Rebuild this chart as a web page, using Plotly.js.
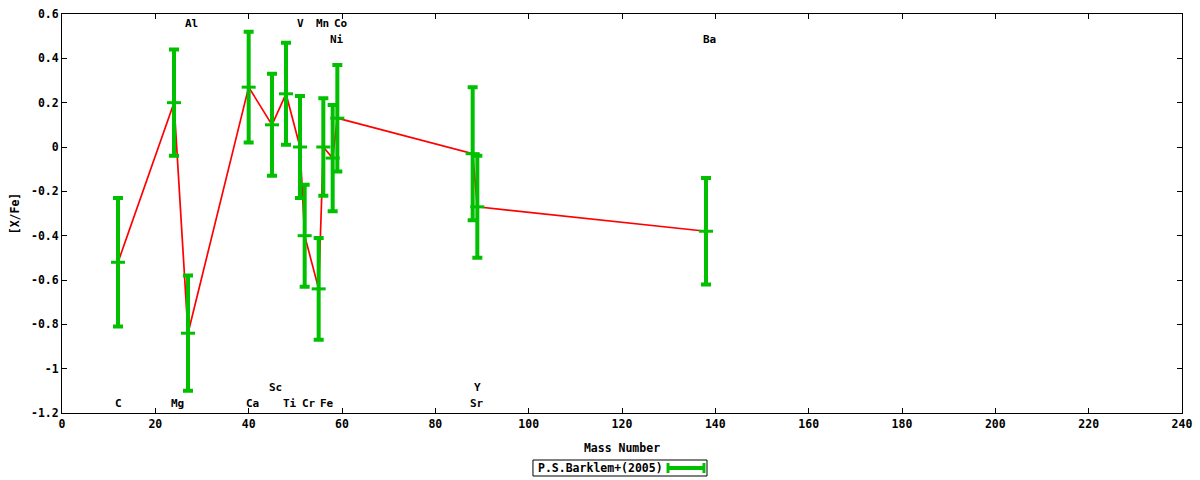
<!DOCTYPE html>
<html>
<head>
<meta charset="utf-8">
<script src="https://cdn.plot.ly/plotly-3.0.1.min.js"></script>
<style>html,body{margin:0;padding:0;background:#fff;}#chart{width:1200px;height:480px;}</style>
</head>
<body>
<div id="chart"></div>
<script>
// Data (element, mass number, [X/Fe], error)
const elements = ["C", "Mg", "Al", "Ca", "Sc", "Ti", "V", "Cr", "Mn", "Fe", "Ni", "Co", "Sr", "Y", "Ba"];
const massNumber = [12, 24, 27, 40, 45, 48, 51, 52, 55, 56, 58, 59, 88, 89, 138];
const xFe = [-0.52, 0.20, -0.84, 0.27, 0.10, 0.24, 0.00, -0.40, -0.64, 0.00, -0.05, 0.13, -0.03, -0.27, -0.38];
const xFeErr = [0.29, 0.24, 0.26, 0.25, 0.23, 0.23, 0.23, 0.23, 0.23, 0.22, 0.24, 0.24, 0.30, 0.23, 0.24];
// label row for each element: 0 = top, 1 = second top, 2 = second bottom, 3 = bottom
const labelRow = [3, 3, 0, 3, 2, 3, 0, 3, 0, 3, 1, 0, 3, 2, 1];
const rowY = [0.556, 0.486, -1.083, -1.155];
const yTickVals = [0.6, 0.4, 0.2, 0, -0.2, -0.4, -0.6, -0.8, -1, -1.2];
const yTickText = ["0.6", "0.4", "0.2", "0", "-0.2", "-0.4", "-0.6", "-0.8", "-1", "-1.2"];
const xTickVals = [0, 20, 40, 60, 80, 100, 120, 140, 160, 180, 200, 220, 240];
const legendName = "P.S.Barklem+(2005)";

const FONT = "DejaVu Sans Mono, Liberation Mono, monospace";
const GREEN = "#00c000";

const lineTrace = {
  x: massNumber, y: xFe, type: "scatter", mode: "lines",
  line: {color: "#ff0000", width: 1.7}, showlegend: false, hoverinfo: "skip"
};
const errTrace = {
  x: massNumber, y: xFe, type: "scatter", mode: "markers",
  name: legendName, showlegend: false,
  marker: {symbol: "line-ew", size: 10, color: GREEN, line: {color: GREEN, width: 3}},
  error_y: {type: "data", array: xFeErr, visible: true, color: GREEN, thickness: 4, width: 5}
};

const annotations = elements.map((el, i) => ({
  x: massNumber[i], y: rowY[labelRow[i]], xref: "x", yref: "y",
  text: el, showarrow: false, xanchor: "left", yanchor: "middle", xshift: -5,
  font: {family: FONT, size: 11, color: "#000", weight: "bold"}
}));
// legend text
annotations.push({
  x: 0.4232, y: -0.1378, xref: "paper", yref: "paper", text: legendName,
  showarrow: false, xanchor: "left", yanchor: "middle",
  font: {family: FONT, size: 11.5, color: "#000", weight: "bold"}
});

const shapes = [
  {type: "rect", xref: "paper", yref: "paper", x0: 0.4205, x1: 0.5759, y0: -0.1579, y1: -0.1178,
   line: {color: "#000", width: 1}, fillcolor: "rgba(0,0,0,0)"},
  {type: "line", xref: "paper", yref: "paper", x0: 0.5411, x1: 0.5732, y0: -0.1378, y1: -0.1378,
   line: {color: GREEN, width: 4}},
  {type: "line", xref: "paper", yref: "paper", x0: 0.5411, x1: 0.5411, y0: -0.1253, y1: -0.1504,
   line: {color: GREEN, width: 3}},
  {type: "line", xref: "paper", yref: "paper", x0: 0.5732, x1: 0.5732, y0: -0.1253, y1: -0.1504,
   line: {color: GREEN, width: 3}}
];

const layout = {
  width: 1200, height: 480,
  margin: {l: 62, r: 18, t: 14, b: 67},
  paper_bgcolor: "#fff", plot_bgcolor: "#fff",
  showlegend: false,
  font: {family: FONT, size: 11.5, color: "#000"},
  xaxis: {
    range: [0, 240], tickvals: xTickVals, ticks: "inside", ticklen: 5, tickcolor: "#000",
    showgrid: false, zeroline: false, showline: true, linecolor: "#000", linewidth: 1, mirror: "ticks",
    tickfont: {family: FONT, size: 11.5, weight: "bold"},
    title: {text: "Mass Number", font: {family: FONT, size: 11.5, weight: "bold"}, standoff: 14}
  },
  yaxis: {
    range: [-1.2, 0.6], tickvals: yTickVals, ticktext: yTickText, ticks: "inside", ticklen: 5, tickcolor: "#000",
    showgrid: false, zeroline: false, showline: true, linecolor: "#000", linewidth: 1, mirror: "ticks",
    tickfont: {family: FONT, size: 11.5, weight: "bold"},
    title: {text: "[X/Fe]", font: {family: FONT, size: 11.5, weight: "bold"}, standoff: 8}
  },
  annotations: annotations,
  shapes: shapes
};

Plotly.newPlot("chart", [lineTrace, errTrace], layout, {staticPlot: true, displayModeBar: false});
</script>
</body>
</html>
